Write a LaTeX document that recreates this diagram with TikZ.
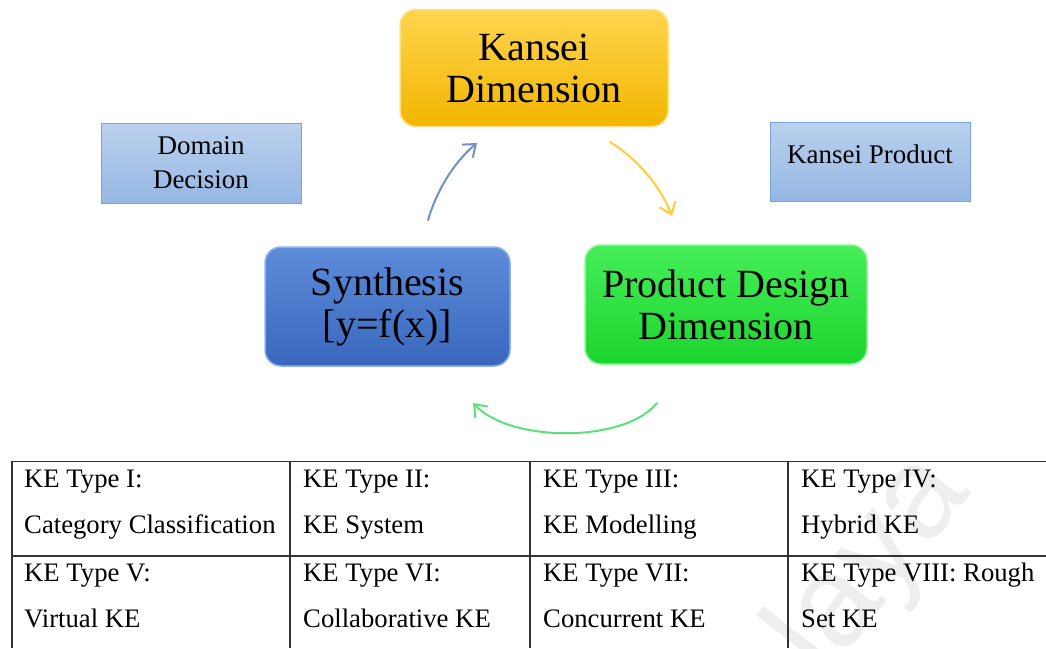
\documentclass[tikz,border=0pt]{standalone}
\usepackage{fontspec}
\setmainfont{Liberation Serif}
\newfontfamily\wmfont{Liberation Sans}
\usetikzlibrary{arrows.meta}
\definecolor{ktop}{HTML}{FFD54F}
\definecolor{kbot}{HTML}{F2B600}
\definecolor{kedge}{HTML}{FFE080}
\definecolor{btop}{HTML}{5C8CDA}
\definecolor{bbot}{HTML}{3A67BD}
\definecolor{bedge}{HTML}{8FB0E8}
\definecolor{gtop}{HTML}{45EE58}
\definecolor{gbot}{HTML}{1CD52E}
\definecolor{gedge}{HTML}{8CF59A}
\definecolor{stop}{HTML}{BBD1EE}
\definecolor{sbot}{HTML}{95B7E3}
\definecolor{sedge}{HTML}{76A5DD}
\definecolor{ablue}{HTML}{7090D0}
\definecolor{ayellow}{HTML}{FFCB3A}
\definecolor{agreen}{HTML}{5CE07A}
\definecolor{tline}{HTML}{333333}
\definecolor{wmgray}{HTML}{EEEEEE}
\begin{document}
\begin{tikzpicture}[x=1pt,y=-1pt,
  bigbox/.style={rounded corners=16pt, line width=1.5pt, align=center, inner sep=0pt,
    font=\fontsize{40}{42}\selectfont},
  smallbox/.style={line width=1pt, draw=sedge, top color=stop, bottom color=sbot,
    align=center, inner sep=0pt, minimum width=200pt, minimum height=80pt,
    font=\fontsize{27}{34}\selectfont},
  cyclearrow/.style={line width=2pt, line cap=round, -{Straight Barb[length=11pt,width=17pt,line width=2pt]}},
  celltext/.style={anchor=base west, inner sep=0pt, font=\fontsize{26.7}{34}\selectfont},
  tableline/.style={draw=tline, line width=1.2pt}
]
\useasboundingbox (0,0) rectangle (1046,648);

% watermark
\node[text=wmgray, font=\wmfont\fontsize{130}{130}\selectfont, rotate=52, inner sep=0pt] (wm) at (872,566) {laya};

% main boxes
\node[bigbox, draw=kedge, top color=ktop, bottom color=kbot, minimum width=268pt, minimum height=117pt] (kd) at (534,68) {Kansei\\Dimension};
\node[bigbox, draw=bedge, top color=btop, bottom color=bbot, minimum width=245pt, minimum height=119pt] (syn) at (387.5,306.5) {Synthesis\\{}[y=f(x)]};
\node[bigbox, draw=gedge, top color=gtop, bottom color=gbot, minimum width=282pt, minimum height=119pt] (pdd) at (726,304.5) {Product Design\\Dimension};

% side boxes
\node[smallbox] (dd) at (201,163) {Domain\\Decision};
\node[smallbox, minimum height=79pt] (kp) at (870,161.5) {\raisebox{14pt}{Kansei Product}};

% cycle arrows
\coordinate (b1) at (428,220);
\coordinate (b2) at (477,143);
\coordinate (y1) at (610,142);
\coordinate (y2) at (672,216);
\coordinate (g1) at (657,403);
\coordinate (g2) at (473,403);
\draw[cyclearrow, draw=ablue] (b1) .. controls (436,193) and (452,164) .. (b2);
\draw[cyclearrow, draw=ayellow] (y1) .. controls (636,158) and (660,185) .. (y2);
\draw[cyclearrow, draw=agreen] (g1) .. controls (625,443) and (510,443) .. (g2);

% table
\draw[tableline] (12,648) -- (12,461.5) -- (1046,461.5);
\draw[tableline] (12,556) -- (1046,556);
\draw[tableline] (290,461.5) -- (290,648);
\draw[tableline] (530,461.5) -- (530,648);
\draw[tableline] (788,461.5) -- (788,648);

\node[celltext] (t11a) at (24,487) {KE Type I:};
\node[celltext] (t11b) at (24,533) {Category Classification};
\node[celltext] (t12a) at (303,487) {KE Type II:};
\node[celltext] (t12b) at (303,533) {KE System};
\node[celltext] (t13a) at (543,487) {KE Type III:};
\node[celltext] (t13b) at (543,533) {KE Modelling};
\node[celltext] (t14a) at (801,487) {KE Type IV:};
\node[celltext] (t14b) at (801,533) {Hybrid KE};
\node[celltext] (t21a) at (24,581) {KE Type V:};
\node[celltext] (t21b) at (24,627) {Virtual KE};
\node[celltext] (t22a) at (303,581) {KE Type VI:};
\node[celltext] (t22b) at (303,627) {Collaborative KE};
\node[celltext] (t23a) at (543,581) {KE Type VII:};
\node[celltext] (t23b) at (543,627) {Concurrent KE};
\node[celltext] (t24a) at (801,581) {KE Type VIII: Rough};
\node[celltext] (t24b) at (801,627) {Set KE};
\end{tikzpicture}
\end{document}
